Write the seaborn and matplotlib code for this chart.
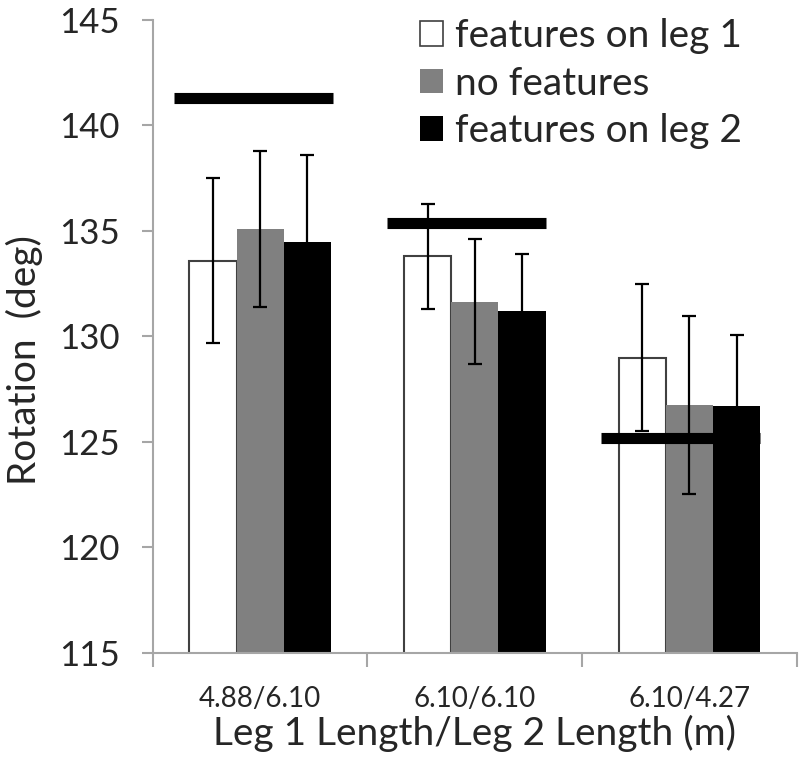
import numpy as np
import pandas as pd
import matplotlib
matplotlib.use("Agg")
import matplotlib.pyplot as plt
import seaborn as sns
from matplotlib.patches import Patch

# values
conditions = ["4.88/6.10", "6.10/6.10", "6.10/4.27"]
series = ["features on leg 1", "no features", "features on leg 2"]
feat_leg1 = [133.6, 133.8, 129.0]
no_feat = [135.1, 131.65, 126.75]
feat_leg2 = [134.5, 131.2, 126.7]
err_leg1 = [3.9, 2.5, 3.5]
err_none = [3.7, 2.95, 4.2]
err_leg2 = [4.1, 2.7, 3.35]
# thick horizontal reference lines, one per condition
predicted = [141.3, 135.4, 125.2]
pred_from = [-0.40, -0.41, -0.41]   # offset from group centre
pred_to = [0.34, 0.33, 0.33]

colors = ["white", "#808080", "black"]


def build_frame():
    rows = []
    for name, vals in zip(series, [feat_leg1, no_feat, feat_leg2]):
        for cond, v in zip(conditions, vals):
            rows.append({"condition": cond, "series": name, "rotation": v})
    return pd.DataFrame(rows)


def main():
    df = build_frame()
    sns.set_style("white")
    plt.rcParams["font.family"] = ["Lato", "DejaVu Sans"]

    fig = plt.figure(figsize=(8, 7.65), dpi=100)
    ax = fig.add_axes([0.191, 0.1464, 0.805, 0.8275])

    sns.barplot(data=df, x="condition", y="rotation", hue="series",
                order=conditions, hue_order=series, palette=colors,
                width=0.66, saturation=1, errorbar=None, legend=False, ax=ax)

    for i, (cont, errs) in enumerate(zip(ax.containers, [err_leg1, err_none, err_leg2])):
        xs = [b.get_x() + b.get_width() / 2 for b in cont]
        hs = [b.get_height() for b in cont]
        for b in cont:
            if i == 0:
                b.set_edgecolor("#404040")
                b.set_linewidth(1.5)
            else:
                b.set_edgecolor("none")
        ax.errorbar(xs, hs, yerr=errs, fmt="none", ecolor="black",
                    elinewidth=1.6, capsize=5, capthick=1.6, zorder=3)

    centers = np.arange(len(conditions))
    ax.hlines(predicted, centers + np.array(pred_from), centers + np.array(pred_to),
              color="black", linewidth=8, zorder=4)

    ax.set_xlim(-0.5, 2.5)
    ax.set_ylim(115, 145)
    ax.set_yticks(range(115, 146, 5))

    for s in ["top", "right"]:
        ax.spines[s].set_visible(False)
    for s in ["left", "bottom"]:
        ax.spines[s].set_color("#a6a6a6")
        ax.spines[s].set_linewidth(1.5)

    ax.tick_params(axis="y", direction="out", length=8, width=1.5,
                   color="#a6a6a6", labelsize=25, pad=16, left=True)
    ax.tick_params(axis="x", which="major", length=0, labelsize=20, pad=24)
    ax.set_xticks([-0.5, 0.5, 1.5, 2.5], minor=True)
    ax.tick_params(axis="x", which="minor", direction="out", length=10,
                   width=1.5, color="#a6a6a6", bottom=True)

    ax.set_xlabel("Leg 1 Length/Leg 2 Length (m)", fontsize=28, labelpad=2)
    ax.set_ylabel("Rotation  (deg)", fontsize=28)
    ax.yaxis.set_label_coords(-0.17, 0.463)

    handles = [Patch(facecolor=c, edgecolor="#404040" if c == "white" else "none",
                     linewidth=1.2) for c in colors]
    ax.legend(handles, series, loc="upper left",
              bbox_to_anchor=(420 / 800, 1 - 18 / 765), bbox_transform=fig.transFigure,
              frameon=False, fontsize=28, labelspacing=0.3, borderpad=0,
              borderaxespad=0, handlelength=0.6, handleheight=0.6,
              handletextpad=0.3)

    fig.savefig("out.png", dpi=100)
    plt.close(fig)


if __name__ == "__main__":
    main()
